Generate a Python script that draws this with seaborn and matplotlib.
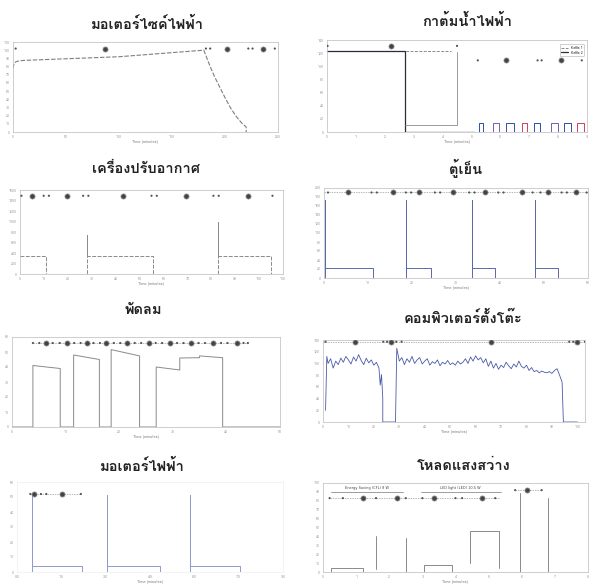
import numpy as np
import pandas as pd
import matplotlib
matplotlib.use("Agg")
import matplotlib.pyplot as plt
import seaborn as sns
from matplotlib import font_manager
from matplotlib.ft2font import FT2Font

sns.set_theme(style="white")


def find_thai_font():
    for f in font_manager.fontManager.ttflist:
        try:
            cm = FT2Font(f.fname).get_charmap()
            if 0x0E01 in cm and 0x0E40 in cm and 0x0E21 in cm:
                return f.name
        except Exception:
            pass
    return None


THAI = find_thai_font()
plt.rcParams["font.family"] = ([THAI] if THAI else []) + ["DejaVu Sans"]

# ---------------- data ----------------
titles = ["มอเตอร์ไซค์ไฟฟ้า", "กาต้มน้ำไฟฟ้า", "เครื่องปรับอากาศ", "ตู้เย็น",
          "พัดลม", "คอมพิวเตอร์ตั้งโต๊ะ", "มอเตอร์ไฟฟ้า", "โหลดแสงสว่าง"]
xlabel_text = "Time (minutes)"

# 1 electric motorcycle
moto_t = [0, 1, 3, 6, 10, 20, 40, 60, 80, 100, 120, 140, 160, 180, 183, 186, 190, 195, 200, 205, 210, 215, 220, 220]
moto_y = [78, 84, 86, 87, 87.5, 88, 89, 90, 91, 92, 94, 96, 98, 100, 90, 80, 68, 55, 42, 30, 20, 12, 6, 0]
moto_mark_small = [2.5, 182, 186, 222, 226, 247]
moto_mark_big = [87, 202, 236]

# 2 electric kettle
kettle_a_t = [0, 2.7, 2.7, 5.1]
kettle_a_y = [124, 124, 0, 0]
kettle_b_t = [0, 4.3]
kettle_b_y = [124, 124]
kettle_c_t = [2.7, 4.5, 4.5]
kettle_c_y = [10, 10, 122]
kettle_pulse_start = [5.27, 5.76, 6.21, 6.75, 7.16, 7.74, 8.19, 8.64]
kettle_pulse_end = [5.40, 5.94, 6.48, 6.93, 7.38, 8.01, 8.46, 8.91]
kettle_pulse_h = [14, 13, 14, 13, 14, 13, 14, 13]
kettle_mark1_small = [0.02, 4.5]
kettle_mark1_big = [2.2]
kettle_mark2_small = [5.22, 7.29, 7.43, 8.82]
kettle_mark2_big = [6.21, 8.1]

# 3 air conditioner
ac_t = [0, 11, 11, 28, 28, 28, 55.5, 55.5, 83, 83, 83, 105, 105, 110]
ac_y = [350, 350, 0, 0, 750, 350, 350, 0, 0, 1000, 350, 350, 0, 0]
ac_mark_small = [0.6, 9.9, 12.1, 26.4, 28.6, 55, 57.2, 80.9, 83.1, 105.6]
ac_mark_big = [5.2, 19.6, 42.9, 69.3, 95.2]

# 4 refrigerator
fridge_t = [0.3, 0.3, 0.3, 11.1, 11.1, 18.7, 18.7, 18.7, 24.4, 24.4, 33.7, 33.7, 33.7, 38.8, 38.8,
            48, 48, 48, 53.2, 53.2, 60]
fridge_y = [0, 174, 22, 22, 0, 0, 174, 22, 22, 0, 0, 174, 22, 22, 0, 0, 174, 22, 22, 0, 0]
fridge_mark_small = [0.9, 10.8, 12, 18.6, 19.8, 25.2, 26.4, 33, 34.2, 39.6, 40.8, 47.4, 49.2, 54, 55.2, 59.7]
fridge_mark_big = [5.4, 15.6, 21.6, 29.4, 36.6, 45, 51, 57.3]

# 5 fan
fan_t = [0, 3.9, 3.9, 9, 9, 11.5, 11.5, 16.3, 16.3, 18.5, 18.5, 23.8, 23.8, 26.9, 26.9, 31.3, 31.3,
         35, 35, 39.3, 39.3, 50]
fan_y = [0, 0, 41, 39, 0, 0, 48, 45, 0, 0, 51.6, 47.4, 0, 0, 40, 38, 46, 46.2, 47.4, 46.2, 0, 0]
fan_mark_big = [6.4, 10.25, 14, 17.5, 21.5, 25.5, 29.4, 33.4, 37.5, 41.9]
fan_mark_small = [3.9, 5.1, 7.6, 8.9, 11.6, 12.8, 15.2, 16.4, 19, 20.2, 22.9, 24.1, 26.8, 28,
                  30.8, 32, 34.8, 36, 39, 40.2, 43.2, 44]

# 6 desktop computer
pc1_t = [1, 1.5, 2, 3, 4, 5, 6, 7, 8, 9, 10, 11, 12, 13, 14, 15, 16, 17, 18, 19, 20, 21, 22,
         22.5, 23, 23.5, 23.5, 28.5]
pc1_y = [20, 112, 100, 108, 92, 104, 98, 109, 102, 112, 106, 99, 111, 104, 115, 105, 98, 109,
         101, 106, 97, 102, 92, 63, 81, 40, 0, 0]
pc2_t = [28.5, 29, 30, 31, 32, 33, 34, 35, 36, 37, 38, 39, 40, 41, 42, 43, 44, 45, 46, 47, 48,
         49, 50, 51, 52, 53, 54, 55, 56, 57, 58, 59, 60, 61, 62, 63, 64, 65, 66, 67, 68, 69,
         70, 71, 72, 73, 74, 75, 76, 77, 78, 79, 80, 81, 82, 83, 84, 85, 86, 87, 88, 89, 90,
         91, 92, 93, 94, 94.5, 100]
pc2_y = [0, 126, 104, 110, 98, 108, 102, 112, 100, 106, 110, 99, 104, 108, 97, 103, 100, 106,
         96, 102, 99, 105, 98, 101, 97, 104, 99, 102, 108, 100, 111, 104, 113, 106, 110, 101,
         108, 95, 104, 92, 100, 90, 97, 93, 102, 96, 91, 99, 94, 104, 95, 92, 97, 88, 93, 86,
         88, 84, 87, 85, 84, 86, 83, 88, 91, 80, 68, 0, 0]
pc_mark_small = [1, 23.7, 25.2, 28.8, 30.9, 96.8, 98.4, 103]
pc_mark_big = [12.4, 26.8, 65.9, 99.9]

# 7 electric motor
motor_t = [0.5, 0.5, 0.5, 2.2, 2.2, 3.04, 3.04, 3.04, 4.84, 4.84, 5.87, 5.87, 5.87, 7.54, 7.54]
motor_y = [0, 51.6, 3.8, 3.8, 0, 0, 51.6, 3.8, 3.8, 0, 0, 51.6, 3.8, 3.8, 0]
motor_mark_small = [0.45, 0.81, 0.99, 2.16]
motor_mark_big = [0.59, 1.53]

# 8 lighting load
light_seg = [0, 0, 0, 0, 1, 1, 2, 2, 3, 3, 3, 3, 4, 4, 4, 4, 4, 5, 5, 6, 6]
light_t = [0.24, 0.24, 1.2, 1.2, 1.6, 1.6, 2.5, 2.5, 3.04, 3.04, 3.9, 3.9, 4.45, 4.45, 5.3, 5.3,
           5.3, 5.94, 5.94, 6.8, 6.8]
light_y = [0, 5, 5, 0, 3, 40, 0, 38, 0, 8, 8, 0, 10, 46, 46, 46, 5, 0, 89, 0, 83]
light_labels = ["Energy Saving (CFL) 8 W", "LED light (LED) 10.5 W"]
light_label_x0 = [0.24, 2.96]
light_label_x1 = [2.4, 5.36]
light_mark_small = [0.2, 0.6, 1.6, 2.5, 3.0, 4.0, 4.2, 5.2]
light_mark_big = [1.2, 2.24, 3.36, 4.8]
light_mark2_small = [5.8, 6.6]
light_mark2_big = [6.16]

# ---------------- layout ----------------
W, H = 589, 586
fig = plt.figure(figsize=(W / 100, H / 100), dpi=100)
fig.patch.set_facecolor("white")


def add_ax(l, t, r, b):
    return fig.add_axes([l / W, 1 - b / H, (r - l) / W, (b - t) / H])


def style(ax, xlim, ylim, xstep, ystep, spine="#bbbbbb"):
    ax.set_xlim(*xlim)
    ax.set_ylim(*ylim)
    ax.set_xticks(np.arange(xlim[0], xlim[1] + 1e-9, xstep))
    ax.set_yticks(np.arange(ylim[0], ylim[1] + 1e-9, ystep))
    ax.tick_params(labelsize=2.6, colors="#9a9a9a", length=1.2, width=0.4, pad=1)
    for s in ax.spines.values():
        s.set_color(spine)
        s.set_linewidth(0.5)
    ax.set_xlabel(xlabel_text, fontsize=2.8, color="#7a7a7a", labelpad=1)
    ax.set_ylabel("")
    ax.grid(False)


def line(ax, t, y, color, lw=0.7, ls="-", seg=None, label=None):
    df = pd.DataFrame({"x": t, "y": y, "seg": seg if seg is not None else [0] * len(t)})
    sns.lineplot(data=df, x="x", y="y", units="seg", estimator=None, sort=False, ax=ax,
                 color=color, lw=lw, linestyle=ls, label=label, legend=False)


def markers(ax, y, small, big, connect=None):
    if connect is not None:
        ax.plot(connect, [y, y], color="#999999", lw=0.5, ls=(0, (2, 1.5)), zorder=2)
    sns.scatterplot(x=small, y=[y] * len(small), ax=ax, s=2.5, color="#555555",
                    edgecolor="none", zorder=3, legend=False)
    sns.scatterplot(x=big, y=[y] * len(big), ax=ax, s=14, color="#444444",
                    edgecolor="#999999", linewidth=0.5, zorder=4, legend=False)


title_pos = [(147, 24), (467, 21), (146, 169), (466, 168),
             (143, 310), (463, 318), (142, 466), (464, 466)]
for (tx, ty), tt in zip(title_pos, titles):
    fig.text(tx / W, 1 - ty / H, tt, ha="center", va="center", fontsize=10.5,
             fontweight="bold", color="#222222")

# 1
ax = add_ax(13, 42, 278, 132)
line(ax, moto_t, moto_y, "#7f7f7f", lw=0.8, ls=(0, (4, 1.5)))
markers(ax, 102, moto_mark_small, moto_mark_big)
style(ax, (0, 250), (0, 110), 50, 10)

# 2
ax = add_ax(327, 40, 587, 132)
line(ax, kettle_b_t, kettle_b_y, "#8a8a8a", lw=0.7, ls=(0, (3, 1.5)), label="Kettle 1")
line(ax, kettle_a_t, kettle_a_y, "#2b2b3f", lw=0.9, label="Kettle 2")
line(ax, kettle_c_t, kettle_c_y, "#8a8a8a", lw=0.6)
pcol = ["#3050b0", "#7060b0", "#3050b0", "#d04060", "#3050b0", "#7060b0", "#3050b0", "#d04060"]
for s, e, h, c in zip(kettle_pulse_start, kettle_pulse_end, kettle_pulse_h, pcol):
    line(ax, [s, s, e, e], [0, h, h, 0], c, lw=0.7)
markers(ax, 131, kettle_mark1_small, kettle_mark1_big)
markers(ax, 109, kettle_mark2_small, kettle_mark2_big)
style(ax, (0, 9), (0, 140), 1, 20)
leg = ax.legend(loc="upper right", fontsize=2.5, frameon=True, handlelength=2,
                borderpad=0.4, labelspacing=0.2, bbox_to_anchor=(0.995, 0.97))
leg.get_frame().set_linewidth(0.4)
leg.get_frame().set_edgecolor("#999999")

# 3
ax = add_ax(20, 190, 283, 274)
line(ax, ac_t, ac_y, "#8a8a8a", lw=0.7, ls=(0, (4, 1.5)))
markers(ax, 1490, ac_mark_small, ac_mark_big)
style(ax, (0, 110), (0, 1600), 10, 200)

# 4
ax = add_ax(324, 188, 588, 278)
line(ax, fridge_t, fridge_y, "#5a6aa8", lw=0.7)
markers(ax, 190, fridge_mark_small, fridge_mark_big, connect=[0, 60])
style(ax, (0, 60), (0, 200), 10, 20)

# 5
ax = add_ax(12, 337, 280, 427)
line(ax, fan_t, fan_y, "#8a8a8a", lw=0.7)
markers(ax, 56, fan_mark_small, fan_mark_big, connect=[3.85, 44])
style(ax, (0, 50), (0, 60), 10, 10)

# 6
ax = add_ax(323, 340, 585, 422)
line(ax, pc1_t, pc1_y, "#4a5aa8", lw=0.6)
line(ax, pc2_t, pc2_y, "#4a5aa8", lw=0.6)
markers(ax, 137, pc_mark_small, pc_mark_big, connect=[0, 103])
style(ax, (0, 103), (0, 140), 10, 20)

# 7
ax = add_ax(17, 482, 283, 572)
line(ax, motor_t, motor_y, "#8f9cc8", lw=0.7)
markers(ax, 52, motor_mark_small, motor_mark_big, connect=[0.45, 2.16])
style(ax, (0, 9), (0, 60), 1.5, 10, spine="#eeeeee")

# 8
ax = add_ax(323, 483, 588, 572)
line(ax, light_t, light_y, "#8a8a8a", lw=0.7, seg=light_seg)
for lab, a, b in zip(light_labels, light_label_x0, light_label_x1):
    ax.plot([a, b], [90, 90], color="#777777", lw=0.5)
    ax.text((a + b) / 2, 92, lab, ha="center", va="bottom", fontsize=2.5, color="#444444",
            family="DejaVu Sans")
markers(ax, 83, light_mark_small, light_mark_big, connect=[0.2, 5.3])
markers(ax, 92, light_mark2_small, light_mark2_big, connect=[5.8, 6.6])
style(ax, (0, 8), (0, 100), 1, 10)

fig.savefig("out.png", dpi=100, facecolor="white")
